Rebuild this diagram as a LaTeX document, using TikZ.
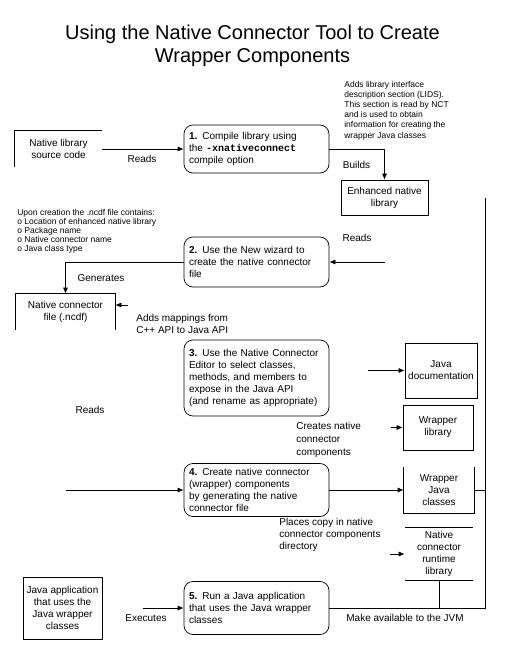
\documentclass[tikz,border=0pt]{standalone}
\usepackage{fontspec}
\setmainfont{Liberation Sans}
\setmonofont{Liberation Mono}
\usepackage{tikz}
\usetikzlibrary{arrows.meta}
\tikzstyle{proc} = [draw=black, line width=0.7pt, rounded corners=9pt, text width=135pt, inner xsep=5pt, align=left, font={\fontsize{10}{11.8}\selectfont}]
\tikzstyle{store} = [line width=0.7pt, align=center, inner sep=0pt, font={\fontsize{10}{12}\selectfont}]
\tikzstyle{lbl} = [inner sep=0pt, align=left, font={\fontsize{10}{12.5}\selectfont}]
\tikzstyle{note} = [inner sep=0pt, align=left, font={\fontsize{8.5}{10.2}\selectfont}]

\begin{document}
\begin{tikzpicture}[x=1pt, y=-1pt, line width=0.7pt, >={Latex[length=6pt,width=5pt]}]
    \useasboundingbox (0,0) rectangle (505,650);
    \node[align=center, font={\fontsize{20}{23}\selectfont}](title) at (252.5,46){Using the Native Connector Tool to Create\\Wrapper Components};
    \node[proc, minimum height=48pt](s1) at (256.5,149){\textbf{1.} Compile library using\\the \texttt{\textbf{-xnativeconnect}}\\compile option};
    \node[proc, minimum height=50pt](s2) at (256.5,262){\textbf{2.} Use the New wizard to\\create the native connector\\file};
    \node[proc, minimum height=76pt](s3) at (256.5,378){\textbf{3.} Use the Native Connector\\Editor to select classes,\\methods, and members to\\expose in the Java API\\(and rename as appropriate)};
    \node[proc, minimum height=53pt](s4) at (256.5,490){\textbf{4.} Create native connector\\(wrapper) components\\by generating the native\\connector file};
    \node[proc, minimum height=53pt](s5) at (256.5,608){\textbf{5.} Run a Java application\\that uses the Java wrapper\\classes};
    \node[store, minimum width=87pt, minimum height=36pt](src) at (58.5,149){Native library\\source code};
    \node[store, draw, minimum width=87pt, minimum height=35pt](enh) at (384.5,197.5){Enhanced native\\library};
    \node[store, minimum width=99pt, minimum height=36pt](ncdf) at (65.5,312){Native connector\\file (.ncdf)};
    \node[store, draw, minimum width=72pt, minimum height=55pt](jdoc) at (441,370.5){Java\\documentation};
    \node[store, draw, minimum width=70pt, minimum height=45pt](wlib) at (438,427.5){Wrapper\\library};
    \node[store, minimum width=70pt, minimum height=45pt](wjc) at (439,490){Wrapper\\Java\\classes};
    \node[store, minimum width=68pt, minimum height=52pt](rt) at (439,554){Native\\connector\\runtime\\library};
    \node[store, draw, minimum width=79pt, minimum height=62pt](japp) at (62.5,608){Java application\\that uses the\\Java wrapper\\classes};
    \draw (src.south west)--(src.north west)--(src.north east);
    \draw (ncdf.south west)--(ncdf.north west)--(ncdf.north east)--(ncdf.south east);
    \draw (wjc.north west)--(wjc.south west)--(wjc.south east)--(wjc.north east);
    \draw (rt.north west)--(rt.north east);
    \draw (rt.south west)--(rt.south east);
    \node[note, anchor=west](lids) at (344,110.5){Adds library interface\\description section (LIDS).\\This section is read by NCT\\and is used to obtain\\information for creating the\\wrapper Java classes};
    \node[note, anchor=west, font={\fontsize{8.5}{9}\selectfont}](ncdfnote) at (17,231){Upon creation the .ncdf file contains:\\o Location of enhanced native library\\o Package name\\o Native connector name\\o Java class type};
    \coordinate (readin) at (385,262);
    \coordinate (mapin) at (128,305);
    \coordinate (readout) at (66,490);
    \coordinate (docin) at (368,370.5);
    \coordinate (libin) at (391,427.5);
    \coordinate (rtin) at (390,554);
    \coordinate (runin) at (143,608);
    \coordinate (jvm) at (485,198);
    \draw[->](src.east)--(s1.west);
    \draw[->](s1.east)-|(enh.north);
    \draw[->](readin)--(s2.east);
    \draw[->](s2.west)-|(ncdf.north);
    \draw[->](mapin)--(mapin-|ncdf.east);
    \draw[->](readout)--(s4.west);
    \draw[->](docin)--(jdoc.west);
    \draw[->](libin)--(wlib.west);
    \draw[->](s4.east)--(wjc.west);
    \draw[->](rtin)--(rt.west);
    \draw[->](runin)--(s5.west);
    \draw (jvm)--(jvm|-s5.east)--(s5.east);
    \draw (wjc.east)--(wjc.east-|jvm);
    \draw (rt.south)--(rt.south|-s5.east);
    \node[lbl](reads1) at (142,159){Reads};
    \node[lbl](builds) at (356.5,165){Builds};
    \node[lbl](reads2) at (357,238){Reads};
    \node[lbl](generates) at (101,278){Generates};
    \node[lbl, anchor=west](adds) at (136,324){Adds mappings from\\C++ API to Java API};
    \node[lbl](reads3) at (90,410){Reads};
    \node[lbl, anchor=west, font={\fontsize{10}{13}\selectfont}](creates) at (296,440){Creates native\\connector\\components};
    \node[lbl, anchor=west, font={\fontsize{10}{12}\selectfont}](places) at (279,535){Places copy in native\\connector components\\directory};
    \node[lbl](jvmlbl) at (405,618){Make available to the JVM};
    \node[lbl](executes) at (146,618){Executes};
\end{tikzpicture}
\end{document}
